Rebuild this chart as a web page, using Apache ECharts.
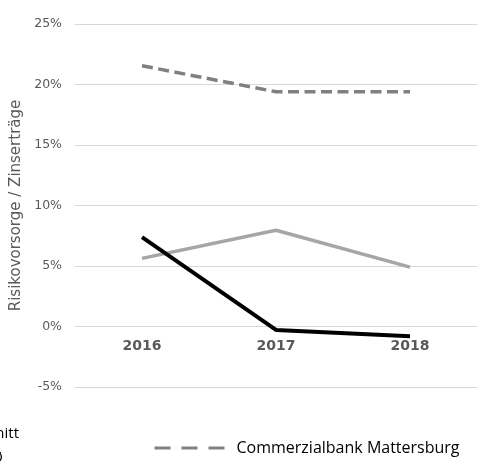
<!DOCTYPE html>
<html>
<head>
<meta charset="utf-8">
<script src="https://cdn.jsdelivr.net/npm/echarts@6/dist/echarts.min.js"></script>
<style>html,body{margin:0;padding:0;background:#fff;}#c{width:477px;height:464px;}</style>
</head>
<body>
<div id="c"></div>
<script>
const categories = ['2016', '2017', '2018'];
const commerzialbank = [21.55, 19.4, 19.4];
const grayLine = [5.63, 7.95, 4.91];
const blackLine = [7.39, -0.28, -0.8];
const yTicks = { min: -5, max: 25, interval: 5 };
const yAxisName = 'Risikovorsorge / Zinserträge';
const legendName = 'Commerzialbank Mattersburg';
const cutLegendLines = ['Branchendurchschnitt', 'Österreich Ø'];

const FONT = "'DejaVu Sans', sans-serif";
const chart = echarts.init(document.getElementById('c'), null, { renderer: 'canvas' });
chart.setOption({
  animation: false,
  grid: { left: 75, top: 24, width: 412, height: 363, containLabel: false },
  xAxis: {
    type: 'category',
    data: categories,
    boundaryGap: true,
    offset: -60.5,
    axisLine: { show: false, onZero: false },
    axisTick: { show: false },
    axisLabel: { color: '#595959', fontFamily: FONT, fontWeight: 'bold', fontSize: 14, margin: 13 },
    splitLine: { show: false }
  },
  yAxis: {
    type: 'value',
    min: yTicks.min, max: yTicks.max, interval: yTicks.interval,
    name: yAxisName,
    nameLocation: 'middle',
    nameGap: 46,
    nameTextStyle: { color: '#595959', fontFamily: FONT, fontSize: 15 },
    axisLine: { show: false },
    axisTick: { show: false },
    axisLabel: { color: '#595959', fontFamily: FONT, fontSize: 12.5, margin: 13, formatter: '{value}%' },
    splitLine: { show: true, lineStyle: { color: '#d9d9d9', width: 1 } }
  },
  legend: {
    left: 148, top: 435,
    itemWidth: 70, itemHeight: 14,
    textStyle: { color: '#000', fontFamily: "'Open Sans', sans-serif", fontSize: 16, padding: [0, 0, 0, 7] },
    data: [{ name: legendName, itemStyle: { opacity: 0 }, lineStyle: { type: [16, 11], width: 3, color: '#808080' } }]
  },
  graphic: [
    { type: 'text', right: 458, top: 426, style: { text: cutLegendLines[0], fill: '#000', font: "15px 'Open Sans'" } },
    { type: 'text', right: 474, top: 450, style: { text: cutLegendLines[1], fill: '#000', font: "15px 'Open Sans'" } }
  ],
  series: [
    { name: legendName, type: 'line', data: commerzialbank, symbol: 'none',
      lineStyle: { color: '#808080', width: 3.5, type: [11, 5.5] }, itemStyle: { color: '#808080' } },
    { name: 'gray', type: 'line', data: grayLine, symbol: 'none',
      lineStyle: { color: '#a6a6a6', width: 3.5 }, itemStyle: { color: '#a6a6a6' } },
    { name: 'black', type: 'line', data: blackLine, symbol: 'none',
      lineStyle: { color: '#000', width: 4 }, itemStyle: { color: '#000' } }
  ]
});
</script>
</body>
</html>
